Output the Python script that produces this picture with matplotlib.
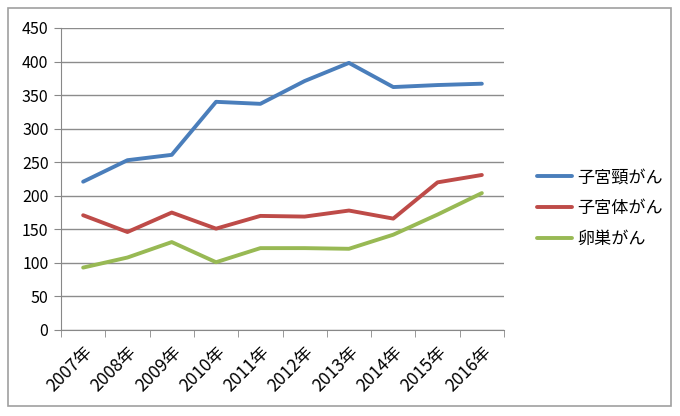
import numpy as np
import matplotlib.pyplot as plt
from matplotlib.patches import Rectangle

plt.rcParams['font.family'] = ['Noto Sans CJK JP', 'DejaVu Sans']

years = ['2007年', '2008年', '2009年', '2010年', '2011年',
         '2012年', '2013年', '2014年', '2015年', '2016年']
cervical = [221, 253, 261, 340, 337, 371, 398, 362, 365, 367]
uterine = [171, 146, 175, 151, 170, 169, 178, 166, 220, 231]
ovarian = [93, 108, 131, 101, 122, 122, 121, 142, 172, 204]
series_names = ['子宮頸がん', '子宮体がん', '卵巣がん']
colors = ['#4a7ebb', '#be4b48', '#98b954']

fig = plt.figure(figsize=(6.8, 4.16), dpi=100)
ax = fig.add_axes([61/680, 1 - 330/416, (504 - 61)/680, (330 - 28)/416])

x = np.arange(len(years))
for vals, name, c in zip([cervical, uterine, ovarian], series_names, colors):
    ax.plot(x, vals, color=c, lw=2.8, label=name, solid_capstyle='round')

ax.set_xlim(-0.5, len(years) - 0.5)
ax.set_ylim(0, 450)
ax.set_yticks(range(0, 451, 50))
ax.set_xticks(x)
ax.set_xticklabels(years, rotation=45, ha='right', rotation_mode='anchor', fontsize=12.5)
ax.set_xticks(np.arange(-0.5, len(years)), minor=True)
ax.tick_params(axis='x', which='major', length=0, pad=9)
ax.tick_params(axis='x', which='minor', length=5, color='#888888', direction='out')
ax.tick_params(axis='y', length=5, color='#888888', labelsize=11.5, pad=4)
ax.grid(axis='y', color='#8c8c8c', lw=1)
ax.set_axisbelow(True)
for s in ['top', 'right']:
    ax.spines[s].set_visible(False)
for s in ['left', 'bottom']:
    ax.spines[s].set_color('#888888')

ax.legend(loc='center left', bbox_to_anchor=(522/680, 0.5), bbox_transform=fig.transFigure,
          frameon=False, fontsize=12.3, handlelength=2.0, handletextpad=0.35,
          labelspacing=0.75)

fig.patches.append(Rectangle((8/680, 1 - 406/416), (671 - 8)/680, (406 - 8)/416,
                             transform=fig.transFigure, fill=False,
                             edgecolor='#a0a0a0', lw=1.2))

fig.savefig('out.png', dpi=100)
